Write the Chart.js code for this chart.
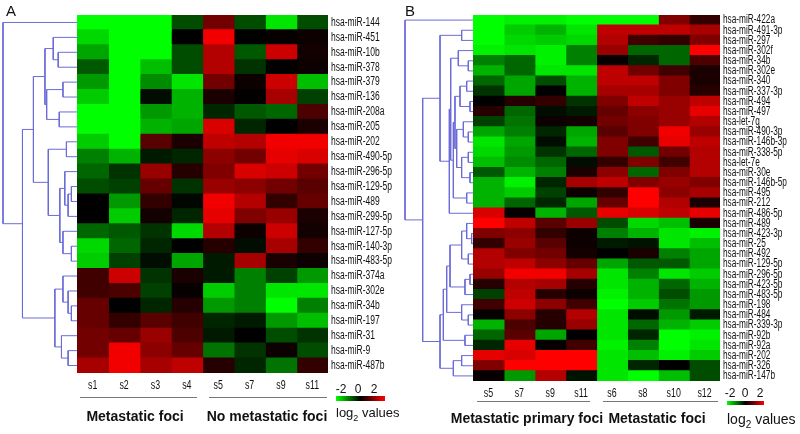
<!DOCTYPE html>
<html>
<head>
<meta charset="utf-8">
<script src="https://cdn.jsdelivr.net/npm/chart.js@4.4.0/dist/chart.umd.min.js"></script>
<style>
  body { margin: 0; background: #fff; width: 800px; height: 434px; overflow: hidden; position: relative;
         font-family: "Liberation Sans", Arial, sans-serif; color: #111; }
  canvas { position: absolute; left: 0; top: 0; }
  .t { position: absolute; white-space: nowrap; line-height: 1; }
  .c { transform: translateX(-50%); }
  .grp { font-weight: bold; font-size: 14px; top: 409px; }
  .line { position: absolute; height: 1px; background: #777; }
  .bar { position: absolute; background: linear-gradient(to right, #00ff00, #000 50%, #ff0000); }
</style>
</head>
<body>
<canvas id="dendA" width="800" height="434"></canvas>
<canvas id="heatA" width="800" height="434"></canvas>
<canvas id="dendB" width="800" height="434"></canvas>
<canvas id="heatB" width="800" height="434"></canvas>

<div class="t" style="left:6px;top:3px;font-size:15px">A</div>
<div class="t" style="left:405px;top:3px;font-size:15px">B</div>

<div class="line" style="left:80px;width:117px;top:397px"></div>
<div class="line" style="left:209px;width:118px;top:397px"></div>
<div class="t c grp" style="left:135px">Metastatic foci</div>
<div class="t c grp" style="left:267px">No metastatic foci</div>

<div class="t c" style="left:341px;top:383px;font-size:12px">-2</div>
<div class="t c" style="left:358px;top:383px;font-size:12px">0</div>
<div class="t c" style="left:374px;top:383px;font-size:12px">2</div>
<div class="bar" style="left:336px;width:49px;top:396px;height:5px"></div>
<div class="t" style="left:336px;top:406px;font-size:13px">log<sub style="font-size:9px">2</sub> values</div>

<div class="line" style="left:477px;width:113px;top:401px"></div>
<div class="line" style="left:603px;width:115px;top:401px"></div>
<div class="t c grp" style="left:527px;top:411px">Metastatic primary foci</div>
<div class="t c grp" style="left:657px;top:411px">Metastatic foci</div>

<div class="t c" style="left:730px;top:387px;font-size:12px">-2</div>
<div class="t c" style="left:745px;top:387px;font-size:12px">0</div>
<div class="t c" style="left:760px;top:387px;font-size:12px">2</div>
<div class="bar" style="left:727px;width:37px;top:401px;height:4px"></div>
<div class="t" style="left:727px;top:412px;font-size:14px">log<sub style="font-size:10px">2</sub> values</div>

<script>
// panel A: metastatic foci vs no metastatic foci
const colsA = ['s1', 's2', 's3', 's4', 's5', 's7', 's9', 's11']
const rowsA = ['hsa-miR-144', 'hsa-miR-451', 'hsa-miR-10b', 'hsa-miR-378', 'hsa-miR-379', 'hsa-miR-136',
  'hsa-miR-208a', 'hsa-miR-205', 'hsa-miR-202', 'hsa-miR-490-5p', 'hsa-miR-296-5p', 'hsa-miR-129-5p',
  'hsa-miR-489', 'hsa-miR-299-5p', 'hsa-miR-127-5p', 'hsa-miR-140-3p', 'hsa-miR-483-5p', 'hsa-miR-374a',
  'hsa-miR-302e', 'hsa-miR-34b', 'hsa-miR-197', 'hsa-miR-31', 'hsa-miR-9', 'hsa-miR-487b']
// log2 values, one row per miRNA, columns as colsA
const valuesA = [
  [-2, -2, -2, -0.6, 0.9, -0.6, -1.8, -0.6],
  [-1.7, -2, -2, 0, 1.9, 0, 0.05, 0.1],
  [-1.3, -2, -2, -0.6, 1.4, -0.7, 1.6, 0.15],
  [-0.7, -2, -1.5, -0.6, 1.4, -0.4, 0.02, 0.1],
  [-1.2, -2, -1.1, -1.8, 0.9, 0.1, 1.6, -1.5],
  [-1.6, -2, -0.1, -1.4, 0.2, 0.02, 1.3, -0.5],
  [-2, -2, -1.2, -1.4, -0.3, -0.7, -0.8, 0.6],
  [-2, -2, -1.4, -1.3, 1.7, -0.3, 0, 0.2],
  [-1.6, -2, 0.7, 0.2, 1.5, 1.4, 1.9, 1.9],
  [-1.0, -1.4, -0.2, -0.3, 1.1, 0.9, 1.8, 1.7],
  [-0.8, -0.4, 1.2, 0.3, 1.0, 1.7, 1.6, 0.9],
  [-0.6, -0.5, 0.8, -0.4, 1.2, 1.1, 0.9, 0.7],
  [0, -1.2, 0.4, -0.05, 1.9, 1.4, 0.4, 0.8],
  [0, -1.6, 0.15, -0.3, 1.8, 1.0, 1.2, 0.2],
  [-0.8, -0.7, -0.4, -1.7, 1.4, 0.1, 1.6, 0.15],
  [-1.7, -0.8, -0.3, 0, 0.3, -0.1, 1.3, 0.4],
  [-1.6, -0.5, -0.1, -1.3, -0.2, 1.3, 0.2, 0.1],
  [0.5, 1.6, -0.4, 0.2, -0.2, -1.0, -0.5, -1.2],
  [0.5, 0.6, -0.5, 0.05, -1.6, -1.0, -1.8, -1.8],
  [0.8, 0, -0.3, 0.3, -1.2, -1.0, -2.0, -1.0],
  [0.8, 0.4, 0.7, 0.5, -0.3, -0.2, -1.2, -1.5],
  [0.9, 0.8, 1.2, 0.6, -0.2, 0, -0.6, -0.4],
  [0.9, 1.9, 1.1, 0.8, -0.9, -0.4, 0.1, -0.6],
  [1.3, 1.9, 1.3, 1.5, 0.3, -0.3, -0.9, 0.4]
]
// row clustering: [left, right, height], leaves are row indexes, node n+k is merge k
const dendroA = [
  [2, 3, 0.254], [1, 24, 0.321], [4, 5, 0.19], [6, 7, 0.24], [26, 27, 0.41], [25, 28, 0.433],
  [8, 9, 0.143], [11, 12, 0.076], [31, 13, 0.12], [10, 32, 0.165], [15, 16, 0.076], [14, 34, 0.19],
  [33, 35, 0.232], [30, 36, 0.388], [29, 37, 0.589], [19, 20, 0.076], [18, 39, 0.12], [17, 40, 0.19],
  [22, 23, 0.12], [21, 42, 0.21], [41, 43, 0.299], [38, 44, 0.737], [0, 45, 1.0]
]

// panel B: metastatic primary foci vs metastatic foci
const colsB = ['s5', 's7', 's9', 's11', 's6', 's8', 's10', 's12']
const rowsB = ['hsa-miR-422a', 'hsa-miR-491-3p', 'hsa-miR-297', 'hsa-miR-302f', 'hsa-miR-34b', 'hsa-miR-302e',
  'hsa-miR-340', 'hsa-miR-337-3p', 'hsa-miR-494', 'hsa-miR-497', 'hsa-let-7g', 'hsa-miR-490-3p',
  'hsa-miR-146b-3p', 'hsa-miR-338-5p', 'hsa-let-7e', 'hsa-miR-30e', 'hsa-miR-146b-5p', 'hsa-miR-495',
  'hsa-miR-212', 'hsa-miR-486-5p', 'hsa-miR-489', 'hsa-miR-423-3p', 'hsa-miR-25', 'hsa-miR-492',
  'hsa-miR-129-5p', 'hsa-miR-296-5p', 'hsa-miR-423-5p', 'hsa-miR-483-5p', 'hsa-miR-198', 'hsa-miR-484',
  'hsa-miR-339-3p', 'hsa-miR-92b', 'hsa-miR-92a', 'hsa-miR-202', 'hsa-miR-326', 'hsa-miR-147b']
const valuesB = [
  [-2, -1.9, -1.9, -2, -2, -2, 1.0, 0.4],
  [-2, -1.6, -1.4, -1.8, 1.5, 1.5, 1.5, 1.3],
  [-2, -1.7, -1.6, -1.7, 1.4, 0.5, 0.4, 1.0],
  [-1.9, -1.8, -1.9, -1.0, 1.2, -0.8, -0.8, 2.0],
  [-1.0, -0.8, -1.9, -1.0, 0.05, -0.3, -0.8, 0.6],
  [-1.4, -0.8, -1.8, -1.8, 1.5, 0.9, 0.5, 0.2],
  [-0.8, -1.3, -0.6, -1.4, 1.5, 1.5, 1.0, 0.2],
  [-0.4, -1.3, 0.0, -1.4, 1.3, 1.3, 1.0, 0.3],
  [0.0, 0.3, 0.4, -0.4, 1.0, 1.5, 1.2, 1.5],
  [0.3, -0.8, -0.1, -0.2, 0.8, 1.1, 1.2, 1.8],
  [-0.5, -0.9, 0.1, 0.15, 0.9, 1.0, 1.2, 1.4],
  [-1.3, -1.0, -0.3, -1.3, 0.7, 1.0, 1.9, 1.2],
  [-1.8, -1.3, -0.1, -1.4, 1.0, 0.5, 1.8, 1.5],
  [-1.7, -1.2, -0.4, -0.8, 1.0, -0.7, 0.9, 1.4],
  [-1.5, -1.1, -0.8, -0.1, 0.4, 1.0, 0.5, 1.4],
  [-0.7, -1.4, -1.0, 0.2, 1.1, -0.8, 1.0, 1.4],
  [-1.4, -1.9, -0.3, 1.3, 1.5, 1.0, 1.2, 1.0],
  [-1.4, -1.6, -0.5, 0.1, 0.4, 2.0, 1.1, 1.3],
  [-1.4, -0.8, -0.3, -1.3, 0.8, 2.0, 1.4, 0.2],
  [1.7, 0.05, -1.4, -0.7, 1.8, 1.7, 1.5, 1.8],
  [2.0, 1.5, 0.7, 1.2, -0.6, -1.7, -1.5, 0.2],
  [1.0, 1.1, 0.4, 0.1, -1.0, -1.4, -1.8, -1.9],
  [0.4, 1.2, 0.7, 0.1, -0.2, -0.15, -1.8, -1.5],
  [1.4, 1.0, 0.9, 0.15, 0, 0.2, -1.0, -1.3],
  [1.4, 1.5, 1.1, 0.8, -1.3, -0.7, -0.7, -1.3],
  [1.2, 1.9, 1.9, 1.3, -1.8, -1.0, -1.8, -1.6],
  [0.3, 1.4, 1.3, 0.3, -1.8, -1.4, -0.8, -1.4],
  [-0.5, 1.5, 0.3, 0.1, -1.9, -1.4, -0.6, -1.2],
  [0.5, 1.6, 1.1, 0.5, -2, -1.6, -0.9, -1.2],
  [0.05, 1.1, 0.3, 1.4, -1.8, -0.1, -1.2, -0.2],
  [-1.4, 0.6, 0.3, 1.2, -1.8, -0.8, -1.4, -1.6],
  [-0.8, 0.7, -1.3, 0.0, -1.8, -0.3, -2.0, -1.9],
  [-0.3, 1.8, 0.05, 0.5, -1.9, -1.0, -2.0, -1.8],
  [1.8, 1.7, 2.0, 2.0, -1.8, -1.5, -1.9, -1.6],
  [1.0, 2.0, 2.0, 2.0, -1.8, -0.3, 0, -0.6],
  [0.05, -1.2, 1.4, -0.15, -1.8, -2, -1.5, -0.6]
]
const dendroB = [
  [1, 2, 0.167], [4, 5, 0.069], [3, 37, 0.216], [6, 7, 0.093], [8, 9, 0.044], [39, 40, 0.191],
  [11, 12, 0.069], [10, 42, 0.142], [13, 14, 0.069], [15, 16, 0.044], [44, 45, 0.167], [43, 46, 0.24],
  [41, 47, 0.265], [17, 18, 0.093], [48, 49, 0.289], [38, 50, 0.328], [51, 19, 0.348], [36, 52, 0.485],
  [21, 22, 0.02], [20, 54, 0.093], [23, 24, 0.069], [55, 56, 0.167], [25, 26, 0.044], [58, 27, 0.118],
  [57, 59, 0.338], [29, 30, 0.069], [28, 61, 0.167], [60, 62, 0.387], [31, 32, 0.118], [63, 64, 0.436],
  [33, 34, 0.167], [66, 35, 0.289], [65, 67, 0.485], [53, 68, 0.74], [0, 69, 1.0]
]

const labelFont = "'Liberation Sans', Arial, sans-serif"
const treeColor = '#6b6bd9'

// -2 green, 0 black, +2 red
const colour = v => {
  const t = Math.min(Math.abs(v) / 2, 1)
  const c = Math.round(255 * t)
  return v < 0 ? `rgb(0,${c},0)` : `rgb(${c},0,0)`
}

// the original labels are set in a narrow face; squeeze the tick labels sideways
const squeezeLabels = {
  id: 'squeezeLabels',
  afterDraw(chart, args, opts) {
    const ctx = chart.ctx
    ;['x', 'y'].forEach(id => {
      const s = chart.scales[id]
      const o = opts[id]
      if (!s || !o) return
      ctx.save()
      ctx.fillStyle = '#111'
      ctx.font = `${o.size}px ${labelFont}`
      ctx.textBaseline = 'middle'
      ctx.textAlign = id === 'y' ? 'left' : 'center'
      s.ticks.forEach((t, i) => {
        const p = s.getPixelForTick(i)
        ctx.save()
        if (id === 'y') ctx.translate(s.left + 3, p)
        else ctx.translate(p, s.top + o.offset)
        ctx.scale(o.squeeze, 1)
        ctx.fillText(t.label, 0, 0)
        ctx.restore()
      })
      ctx.restore()
    })
  }
}

const heatmap = (id, rows, cols, vals, area, labels) => {
  const datasets = cols.map((c, ci) => ({
    label: c,
    data: rows.map(() => 1),
    backgroundColor: rows.map((r, ri) => colour(vals[ri][ci])),
    borderWidth: 0,
    barPercentage: 1,
    categoryPercentage: 1,
    inflateAmount: 0.6
  }))
  new Chart(document.getElementById(id), {
    type: 'bar',
    data: { labels: rows, datasets: datasets },
    plugins: [squeezeLabels],
    options: {
      indexAxis: 'y',
      responsive: false,
      animation: false,
      events: [],
      layout: { padding: { left: area.l, top: area.t, right: 800 - area.r - 70, bottom: 434 - area.b - 22 } },
      plugins: { legend: { display: false }, tooltip: { enabled: false }, squeezeLabels: labels },
      scales: {
        x: {
          stacked: true, min: 0, max: cols.length,
          grid: { display: false, drawTicks: false }, border: { display: false },
          afterBuildTicks: s => { s.ticks = cols.map((c, i) => ({ value: i + 0.5 })) },
          afterFit: s => { s.height = 22 },
          ticks: { display: false, autoSkip: false, callback: (v, i) => cols[i] }
        },
        y: {
          stacked: true, position: 'right',
          grid: { display: false, drawTicks: false }, border: { display: false },
          afterFit: s => { s.width = 70 },
          ticks: { display: false, autoSkip: false }
        }
      }
    }
  })
}

const dendrogram = (id, n, merges, area) => {
  const pos = []
  for (let i = 0; i < n; i++) pos.push({ y: i, h: 0 })
  const pts = []
  merges.forEach(([a, b, h]) => {
    const A = pos[a], B = pos[b]
    pts.push({ x: A.h, y: A.y }, { x: h, y: A.y }, { x: h, y: B.y }, { x: B.h, y: B.y }, { x: null, y: null })
    pos.push({ y: (A.y + B.y) / 2, h: h })
  })
  new Chart(document.getElementById(id), {
    type: 'scatter',
    data: { datasets: [{ data: pts, showLine: true, spanGaps: false, borderColor: treeColor,
                         borderWidth: 1, pointRadius: 0, clip: 4 }] },
    options: {
      responsive: false,
      animation: false,
      events: [],
      layout: { padding: { left: area.l, top: area.t, right: 800 - area.r, bottom: 434 - area.b } },
      plugins: { legend: { display: false }, tooltip: { enabled: false } },
      scales: {
        x: { type: 'linear', min: 0, max: 1, reverse: true, display: false },
        y: { type: 'linear', min: -0.5, max: n - 0.5, reverse: true, display: false }
      }
    }
  })
}

heatmap('heatA', rowsA, colsA, valuesA, { l: 77, t: 15, r: 328, b: 373 },
  { x: { size: 13, squeeze: 0.68, offset: 12 }, y: { size: 12, squeeze: 0.71 } })
heatmap('heatB', rowsB, colsB, valuesB, { l: 473, t: 15, r: 720, b: 381 },
  { x: { size: 13, squeeze: 0.68, offset: 12 }, y: { size: 12, squeeze: 0.69 } })
dendrogram('dendA', rowsA.length, dendroA, { l: 3, t: 15, r: 77, b: 373 })
dendrogram('dendB', rowsB.length, dendroB, { l: 405, t: 15, r: 473, b: 381 })
</script>
</body>
</html>
